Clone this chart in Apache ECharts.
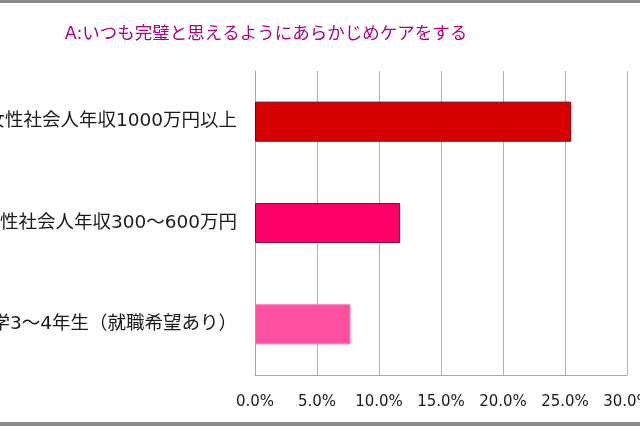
<!DOCTYPE html>
<html lang="ja">
<head>
    <meta charset="UTF-8">
    <script src="https://cdn.jsdelivr.net/npm/echarts@6/dist/echarts.min.js"></script>
    <title>A:いつも完璧と思えるようにあらかじめケアをする</title>
    <style>
        *{
            margin: 0;
            padding: 0;
        }
        body{
            background: #fff;
        }
        .frame{
            width: 640px;
            height: 419px;
            border-top: 3px solid #8a8a8a;
            border-bottom: 4px solid #8a8a8a;
        }
        #chart{
            width: 640px;
            height: 419px;
        }
    </style>
</head>
<body>
    <div class="frame">
        <div id="chart"></div>
    </div>
<script>
    // 回答者グループ
    var categories = [
        '女性社会人年収1000万円以上',
        '女性社会人年収300～600万円',
        '女子大学3～4年生（就職希望あり）'
    ];
    // 割合(%)
    var values = [25.5, 11.7, 7.7];
    var barColors = ['#d80000', '#ff0066', '#ff4fa0'];
    var barBorders = ['#7a0000', '#8c0045', '#ff6fb0'];

    var chart = echarts.init(document.getElementById('chart'));
    // 英数字は幅広のDejaVu、和文はNoto CJK
    var font = '"DejaVu Sans", "Noto Sans CJK JP", sans-serif';

    var option = {
        backgroundColor: '#fff',
        animation: false,
        title: {
            text: 'A:いつも完璧と思えるようにあらかじめケアをする',
            left: 261,
            textAlign: 'center',
            top: 18,
            textStyle: {
                color: '#b4007a',
                fontSize: 17.5,
                fontWeight: 'normal',
                fontFamily: font
            }
        },
        grid: {
            left: 255,
            right: 13,
            top: 68,
            bottom: 47,
            outerBoundsMode: 'none'
        },
        xAxis: {
            type: 'value',
            min: 0,
            max: 30,
            interval: 5,
            axisLine: {show: true, lineStyle: {color: '#a6a6a6'}},
            axisTick: {show: false},
            splitLine: {lineStyle: {color: '#b3b3b3', width: 1}},
            axisLabel: {
                margin: 20,
                fontSize: 15,
                color: '#1a1a1a',
                fontFamily: font,
                formatter: function (v) { return v.toFixed(1) + '%'; }
            }
        },
        yAxis: {
            type: 'category',
            inverse: true,
            data: categories,
            axisLine: {show: true, lineStyle: {color: '#a6a6a6'}},
            axisTick: {show: false},
            axisLabel: {
                margin: 18,
                fontSize: 18.5,
                color: '#1a1a1a',
                fontFamily: font
            }
        },
        series: [{
            type: 'bar',
            barWidth: 40,
            data: values.map(function (v, i) {
                return {
                    value: v,
                    itemStyle: {color: barColors[i], borderColor: barBorders[i], borderWidth: 1}
                };
            })
        }]
    };
    chart.setOption(option);
</script>
</body>
</html>
